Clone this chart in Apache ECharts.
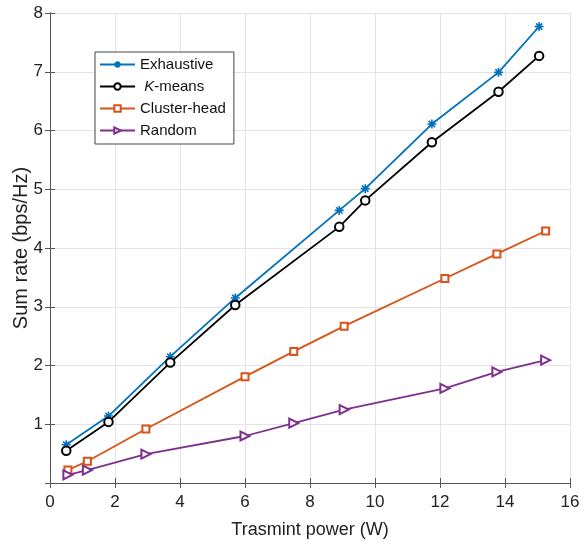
<!DOCTYPE html>
<html>
<head>
<meta charset="utf-8">
<script src="https://cdn.jsdelivr.net/npm/echarts@6/dist/echarts.min.js"></script>
<style>
  html, body { margin: 0; padding: 0; background: #fff; }
  #chart { width: 583px; height: 541px; }
</style>
</head>
<body>
<div id="chart"></div>
<script>
  // values
  const xOpt = [0.5, 1.8, 3.7, 5.7, 8.9, 9.7, 11.75, 13.8, 15.05]
  const exhaustive = [0.65, 1.14, 2.15, 3.15, 4.64, 5.01, 6.11, 6.99, 7.77]
  const kmeans = [0.55, 1.04, 2.05, 3.03, 4.36, 4.81, 5.80, 6.66, 7.27]
  const xBase = [0.55, 1.15, 2.95, 6.0, 7.5, 9.05, 12.15, 13.75, 15.25]
  const clusterHead = [0.22, 0.37, 0.92, 1.81, 2.24, 2.67, 3.48, 3.90, 4.29]
  const randomSel = [0.14, 0.22, 0.49, 0.80, 1.02, 1.25, 1.61, 1.89, 2.09]
  const names = ["Exhaustive", "K-means", "Cluster-head", "Random"]

  const pair = (xs, ys) => xs.map((x, i) => [x, ys[i]])
  const font = "Liberation Sans, Arial, sans-serif"
  const star = "path://M5,0L5,10M0,5L10,5M1.5,1.5L8.5,8.5M8.5,1.5L1.5,8.5"

  const tickAxis = {
    axisLine: { show: true, lineStyle: { color: "#555", width: 1 } },
    axisTick: { show: true, inside: true, length: 5, lineStyle: { color: "#555" } },
    axisLabel: { show: false },
    splitLine: { show: false },
  }

  const options = {
    animation: false,
    backgroundColor: "#fff",
    textStyle: { fontFamily: font },
    grid: { left: 50, right: 13, top: 13, bottom: 58, outerBoundsMode: "none" },
    legend: {
      orient: "vertical",
      left: 95,
      top: 52,
      data: names,
      backgroundColor: "#fff",
      borderColor: "#444",
      borderWidth: 1,
      padding: [5, 8, 6, 4],
      itemGap: 7,
      itemWidth: 35,
      itemHeight: 8,
      textStyle: {
        fontSize: 15, color: "#111", fontFamily: font,
        rich: { i: { fontStyle: "italic", fontSize: 15, color: "#111", fontFamily: font } },
      },
      formatter: (n) => n === "K-means" ? " {i|K}-means" : n,
    },
    xAxis: [
      {
        type: "value",
        min: 0, max: 16, interval: 2,
        name: "Trasmint power (W)",
        nameLocation: "middle",
        nameGap: 38,
        nameTextStyle: { fontSize: 18, color: "#222", fontFamily: font },
        axisLine: { show: true, lineStyle: { color: "#555", width: 1 } },
        axisTick: { show: true, inside: true, length: 5, lineStyle: { color: "#555" } },
        axisLabel: { fontSize: 17, color: "#222", margin: 11 },
        splitLine: { show: true, lineStyle: { color: "#e3e3e3", width: 1 } },
      },
      Object.assign({ type: "value", position: "top", min: 0, max: 16, interval: 2 }, tickAxis),
    ],
    yAxis: [
      {
        type: "value",
        min: 0, max: 8, interval: 1,
        name: "Sum rate (bps/Hz)",
        nameLocation: "middle",
        nameGap: 19,
        nameMoveOverlap: false,
        nameTextStyle: { fontSize: 20, color: "#222", fontFamily: font },
        axisLine: { show: true, lineStyle: { color: "#555", width: 1 } },
        axisTick: { show: true, inside: true, length: 5, lineStyle: { color: "#555" } },
        axisLabel: { fontSize: 17, color: "#222", margin: 7, formatter: (v) => v === 0 ? "" : v },
        splitLine: { show: true, lineStyle: { color: "#e3e3e3", width: 1 } },
      },
      Object.assign({ type: "value", position: "right", min: 0, max: 8, interval: 1 }, tickAxis),
    ],
    series: [
      {
        name: names[0], type: "line", data: pair(xOpt, exhaustive),
        symbol: star, symbolSize: 9,
        lineStyle: { color: "#0072BD", width: 1.8 },
        itemStyle: { color: "#0072BD", borderColor: "#0072BD", borderWidth: 1.6 },
      },
      {
        name: names[1], type: "line", data: pair(xOpt, kmeans),
        symbol: "emptyCircle", symbolSize: 8.5,
        lineStyle: { color: "#000", width: 1.8 },
        itemStyle: { color: "#000", borderWidth: 1.5 },
      },
      {
        name: names[2], type: "line", data: pair(xBase, clusterHead),
        symbol: "emptyRect", symbolSize: 7,
        lineStyle: { color: "#D95319", width: 1.8 },
        itemStyle: { color: "#D95319", borderWidth: 1.5 },
      },
      {
        name: names[3], type: "line", data: pair(xBase, randomSel),
        symbol: "emptyTriangle", symbolSize: 9, symbolRotate: -90,
        lineStyle: { color: "#7E2F8E", width: 1.8 },
        itemStyle: { color: "#7E2F8E", borderWidth: 1.5 },
      },
    ],
  }

  const myChart = echarts.init(document.getElementById("chart"))
  myChart.setOption(options)
  window.addEventListener("resize", () => myChart.resize(), false)
</script>
</body>
</html>
